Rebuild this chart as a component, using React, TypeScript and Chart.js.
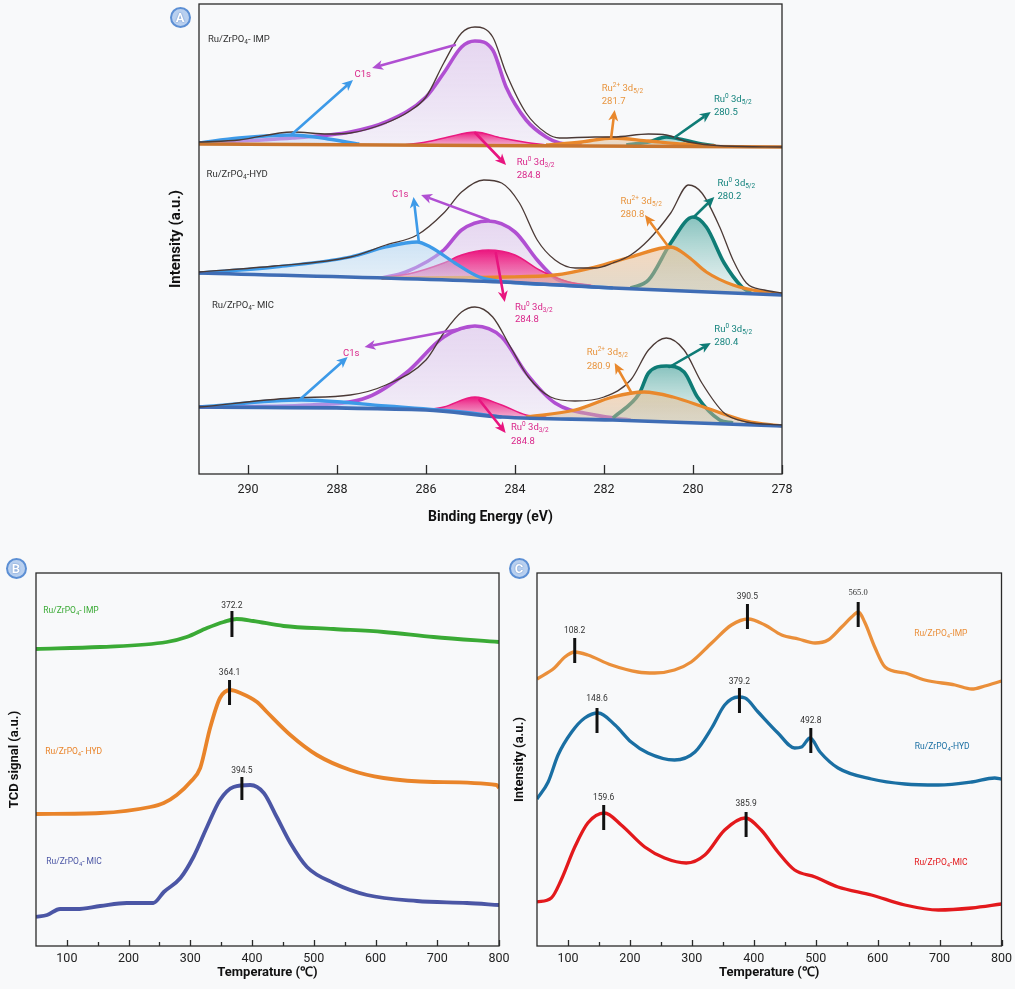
import React, { useEffect, useRef } from "react";
import { Chart, registerables } from "chart.js";
Chart.register(...registerables);

const BG = "#f8f9fa";
const FONT = "Roboto";

// ---------------- Panel A : XPS (binding energy, eV / intensity a.u.) ----------------
const A_TICKS = [290, 288, 286, 284, 282, 280, 278];

// IMP
const IMP_BASE_E = [291.1, 284.8, 278];
const IMP_BASE_V = [330, 328.5, 327];
const IMP_ENV_E = [291.1, 290.2, 289.0, 288.2, 287.7, 286.9, 286.4, 286.0, 285.6, 285.2, 284.9, 284.5, 284.2, 283.75, 283.3, 283.0, 282.2, 281.8, 281.0, 280.6, 280.1, 279.3, 278];
const IMP_ENV_V = [332, 334, 342, 340, 341, 351, 362, 377, 411, 441, 447, 437, 401, 361, 341, 336, 337, 337, 340, 339, 332, 328, 327];
const IMP_C1S_E = [291.1, 289.0, 287.7, 286.9, 286.0, 285.6, 285.2, 284.9, 284.5, 284.2, 283.75, 283.3, 283.0, 282.5];
const IMP_C1S_V = [331, 336, 342, 352, 377, 401, 427, 433, 424, 387, 354, 337, 331, 329];
const IMP_RU32_E = [286.5, 286.0, 285.5, 284.9, 284.3, 283.8, 283.3];
const IMP_RU32_V = [329, 332, 337, 342, 336, 332, 329];
const IMP_C1SB_E = [291.1, 290.2, 289.0, 288.2, 287.5];
const IMP_C1SB_V = [331, 336, 339, 335, 330];
const IMP_RU2_E = [283.3, 282.5, 281.8, 281.0, 280.2, 279.5];
const IMP_RU2_V = [329, 332, 336, 333, 330, 328];
const IMP_RU52_E = [281.5, 281.0, 280.6, 280.2, 279.8, 279.5];
const IMP_RU52_V = [329, 332, 337, 334, 330, 328];

// HYD
const HYD_BASE_E = [291.1, 284.3, 281.8, 278];
const HYD_BASE_V = [201, 192, 186, 179];
const HYD_ENV_E = [291.1, 289.4, 287.7, 286.9, 286.2, 285.6, 285.2, 284.7, 284.3, 283.9, 283.5, 283.1, 282.65, 282.2, 281.8, 281.4, 281.0, 280.5, 280.1, 279.8, 279.4, 279.1, 278.8, 278.4, 278];
const HYD_ENV_V = [202, 208, 217, 229, 239, 261, 282, 294, 291, 271, 234, 214, 206, 206, 211, 219, 234, 261, 289, 281, 247, 214, 191, 184, 181];
const HYD_C1S_E = [287.0, 286.45, 285.6, 285.2, 284.6, 284.0, 283.5, 283.1, 282.8, 282.3];
const HYD_C1S_V = [196, 202, 224, 244, 253, 242, 214, 196, 191, 188];
const HYD_RU32_E = [287.2, 286.4, 285.6, 285.2, 284.6, 284.0, 283.45, 282.8, 282.2];
const HYD_RU32_V = [196, 200, 211, 219, 224, 219, 204, 192, 188];
const HYD_C1SB_E = [291.1, 289.4, 287.7, 286.9, 286.2, 285.9, 285.35, 284.8, 283.9, 283.0, 281.8];
const HYD_C1SB_V = [201, 207, 217, 227, 232, 227, 211, 197, 191, 189, 186];
const HYD_RU2_E = [287.0, 284.3, 283.1, 282.2, 281.4, 280.5, 280.1, 279.7, 279.1, 278.4, 278];
const HYD_RU2_V = [196, 197, 199, 207, 217, 227, 217, 202, 189, 182, 180];
const HYD_RU52_E = [281.4, 281.0, 280.5, 280.0, 279.7, 279.3, 278.9, 278.7];
const HYD_RU52_V = [186, 194, 231, 257, 247, 211, 187, 181];

// MIC
const MIC_BASE_E = [291.1, 286.0, 284.3, 281.8, 278];
const MIC_BASE_V = [67, 64, 57, 54, 48];
const MIC_ENV_E = [291.1, 289.0, 287.7, 286.9, 286.0, 285.6, 285.2, 284.9, 284.5, 284.1, 283.7, 283.2, 282.65, 282.0, 281.4, 281.0, 280.6, 280.2, 279.8, 279.3, 278.8, 278];
const MIC_ENV_V = [67, 76, 79, 89, 114, 141, 162, 167, 157, 127, 97, 77, 73, 77, 94, 124, 136, 124, 91, 61, 52, 49];
const MIC_C1S_E = [291.1, 288.6, 287.3, 286.45, 285.6, 284.9, 284.3, 283.75, 283.1, 282.2, 281.4];
const MIC_C1S_V = [67, 69, 77, 101, 137, 148, 137, 101, 71, 59, 54];
const MIC_RU32_E = [286.0, 285.6, 284.9, 284.3, 283.75, 283.3];
const MIC_RU32_V = [64, 67, 77, 69, 59, 57];
const MIC_C1SB_E = [291.1, 288.8, 286.9, 285.2, 284.3];
const MIC_C1SB_V = [67, 74, 68, 62, 57];
const MIC_RU2_E = [283.75, 282.65, 281.8, 281.1, 280.45, 279.7, 278.8, 278];
const MIC_RU2_V = [57, 64, 77, 82, 77, 66, 53, 48];
const MIC_RU52_E = [281.8, 281.2, 281.0, 280.6, 280.2, 279.9, 279.4, 279.1];
const MIC_RU52_V = [56, 81, 101, 108, 102, 77, 54, 51];

// ---------------- Panel B : H2-TPR (TCD signal) ----------------
const TEMP_TICKS = [100, 200, 300, 400, 500, 600, 700, 800];
const TEMP_MINOR = [150, 250, 350, 450, 550, 650, 750];

const B_IMP_T = [50, 154, 262, 294, 327, 354, 375, 402, 451, 532, 613, 694, 800];
const B_IMP_V = [297, 299, 304, 309, 318, 324, 327, 325, 320, 317, 314, 309, 304];
const B_HYD_T = [50, 154, 235, 257, 278, 300, 316, 332, 348, 365, 381, 408, 424, 462, 505, 559, 613, 694, 796, 800];
const B_HYD_V = [132, 133, 139, 143, 151, 164, 178, 218, 248, 256, 253, 244, 234, 211, 191, 176, 168, 164, 161, 158];
const B_MIC_T = [50, 68, 89, 116, 154, 197, 240, 257, 284, 305, 327, 348, 370, 397, 419, 440, 462, 489, 532, 586, 667, 748, 800];
const B_MIC_V = [29, 31, 37, 37, 40, 43, 43, 54, 68, 89, 119, 146, 159, 161, 153, 129, 103, 79, 63, 51, 45, 43, 41];

const B_PEAK_T = [367.4, 363.5, 383.5];
const B_PEAK_LO = [309, 241, 146];
const B_PEAK_HI = [335, 266, 169];
const B_PEAK_LABEL = ["372.2", "364.1", "394.5"];
const B_PEAK_LABEL_V = [340, 273, 175];

// ---------------- Panel C : intensity vs temperature ----------------
const C_IMP_T = [50, 78, 95, 111, 132, 170, 213, 240, 272, 299, 332, 364, 391, 418, 445, 472, 499, 520, 542, 558, 569, 579, 596, 612, 644, 676, 725, 752, 773, 800];
const C_IMP_V = [267, 278, 289, 294, 291, 281, 274, 273, 276, 284, 303, 321, 327, 321, 311, 307, 303, 306, 319, 329, 334, 324, 298, 279, 273, 266, 261, 257, 260, 265];
const C_HYD_T = [50, 68, 84, 106, 127, 149, 176, 202, 229, 272, 305, 332, 353, 375, 386, 407, 439, 466, 477, 491, 507, 536, 590, 644, 698, 752, 789, 800];
const C_HYD_V = [147, 164, 191, 214, 228, 233, 221, 204, 193, 186, 194, 218, 241, 249, 248, 234, 213, 198, 199, 208, 194, 178, 167, 162, 161, 164, 168, 167];
const C_MIC_T = [50, 73, 89, 111, 132, 159, 186, 224, 256, 291, 321, 353, 386, 412, 439, 466, 499, 536, 590, 644, 698, 752, 800];
const C_MIC_V = [44, 48, 66, 99, 123, 133, 121, 99, 88, 83, 91, 116, 128, 116, 94, 76, 69, 59, 51, 41, 36, 38, 42];

const C_PEAK_T = [110.9, 389.8, 568.6, 146.9, 376.9, 492.1, 157.7, 387.6];
const C_PEAK_LO = [283, 317, 319, 213, 233, 193, 116, 109];
const C_PEAK_HI = [308, 342, 344, 238, 258, 218, 141, 134];
const C_PEAK_LABEL = ["108.2", "390.5", "565.0", "148.6", "379.2", "492.8", "159.6", "385.9"];
const C_PEAK_LABEL_V = [315, 349, 353, 247, 264, 225, 148, 142];
const C_PEAK_SERIF = [false, false, true, false, false, false, false, false];

// ---------------- helpers ----------------
type Part = [string, number];
const sampleParts = (name: string, sep: string): Part[] => [["Ru/ZrPO", 0], ["4", -1], [sep + name, 0]];
const RU0_32: Part[] = [["Ru", 0], ["0", 1], [" 3d", 0], ["3/2", -1]];
const RU0_52: Part[] = [["Ru", 0], ["0", 1], [" 3d", 0], ["5/2", -1]];
const RU2_52: Part[] = [["Ru", 0], ["2+", 1], [" 3d", 0], ["5/2", -1]];

const pts = (X: number[], Y: number[]) => X.map((x, i) => ({ x, y: Y[i] }));

function drawRich(ctx: CanvasRenderingContext2D, parts: Part[], x: number, y: number, size: number, color: string, align: string, family = FONT) {
  const small = size * 0.68;
  let total = 0;
  const widths = parts.map(([s, k]) => {
    ctx.font = `${k ? small : size}px ${family}`;
    const w = ctx.measureText(s).width;
    total += w;
    return w;
  });
  let cx = align === "center" ? x - total / 2 : align === "right" ? x - total : x;
  ctx.fillStyle = color;
  ctx.textBaseline = "middle";
  ctx.textAlign = "left";
  parts.forEach(([s, k], i) => {
    ctx.font = `${k ? small : size}px ${family}`;
    const dy = k === 1 ? -size * 0.35 : k === -1 ? size * 0.3 : 0;
    ctx.fillText(s, cx, y + dy);
    cx += widths[i];
  });
}

function drawArrow(ctx: CanvasRenderingContext2D, x1: number, y1: number, x2: number, y2: number, color: string) {
  const head = 11, hw = 5, lw = 2.6;
  const ang = Math.atan2(y2 - y1, x2 - x1);
  const bx = x2 - head * Math.cos(ang), by = y2 - head * Math.sin(ang);
  ctx.strokeStyle = color;
  ctx.lineWidth = lw;
  ctx.lineCap = "round";
  ctx.beginPath();
  ctx.moveTo(x1, y1);
  ctx.lineTo(bx + 2 * Math.cos(ang), by + 2 * Math.sin(ang));
  ctx.stroke();
  ctx.fillStyle = color;
  ctx.beginPath();
  ctx.moveTo(x2, y2);
  ctx.lineTo(bx + hw * Math.sin(ang), by - hw * Math.cos(ang));
  ctx.lineTo(bx + 3 * Math.cos(ang), by + 3 * Math.sin(ang));
  ctx.lineTo(bx - hw * Math.sin(ang), by + hw * Math.cos(ang));
  ctx.closePath();
  ctx.fill();
}

type TextSpec = { x: number; y: number; parts: Part[]; color: string; align: string; size: number; family?: string };
type ArrowSpec = { x1: number; y1: number; x2: number; y2: number; color: string };
type BarSpec = { x: number; lo: number; hi: number };

function makeAnnot(texts: TextSpec[], arrows: ArrowSpec[], bars: BarSpec[]) {
  return {
    id: "annot",
    afterDatasetsDraw(chart: any) {
      const { ctx } = chart;
      const xs = chart.scales.x, ys = chart.scales.y;
      const px = (v: number) => xs.getPixelForValue(v);
      const py = (v: number) => ys.getPixelForValue(v);
      ctx.save();
      bars.forEach((b) => {
        ctx.strokeStyle = "#111";
        ctx.lineWidth = 3;
        ctx.lineCap = "butt";
        ctx.beginPath();
        ctx.moveTo(px(b.x), py(b.lo));
        ctx.lineTo(px(b.x), py(b.hi));
        ctx.stroke();
      });
      arrows.forEach((a) => drawArrow(ctx, px(a.x1), py(a.y1), px(a.x2), py(a.y2), a.color));
      texts.forEach((t) => drawRich(ctx, t.parts, px(t.x), py(t.y), t.size, t.color, t.align, t.family || FONT));
      ctx.restore();
    },
  };
}

function makeFrame(major: number[], minor: number[], majLen: number, minLen: number) {
  return {
    id: "frame",
    afterDraw(chart: any) {
      const { ctx, chartArea: a } = chart;
      const xs = chart.scales.x;
      ctx.save();
      ctx.strokeStyle = "#2a2a2a";
      ctx.lineWidth = 1.3;
      ctx.strokeRect(a.left, a.top, a.right - a.left, a.bottom - a.top);
      ctx.beginPath();
      major.forEach((v) => {
        const x = Math.round(xs.getPixelForValue(v)) + 0.5;
        ctx.moveTo(x, a.bottom);
        ctx.lineTo(x, a.bottom - majLen);
      });
      minor.forEach((v) => {
        const x = Math.round(xs.getPixelForValue(v)) + 0.5;
        ctx.moveTo(x, a.bottom);
        ctx.lineTo(x, a.bottom - minLen);
      });
      ctx.stroke();
      ctx.restore();
    },
  };
}

function vgrad(top: string, bottom: string, vTop: number, vBot: number) {
  return (c: any) => {
    const chart = c.chart;
    const ys = chart.scales && chart.scales.y;
    if (!chart.chartArea || !ys) return top;
    const g = chart.ctx.createLinearGradient(0, ys.getPixelForValue(vTop), 0, ys.getPixelForValue(vBot));
    g.addColorStop(0, top);
    g.addColorStop(1, bottom);
    return g;
  };
}

// ---------------- Panel A config ----------------
const COL = {
  purple: "#b04fd2",
  pink: "#e8157f",
  blue: "#3d9ae8",
  orange: "#e9882c",
  teal: "#0f7c76",
  env: "#4b3a36",
  baseBlue: "#3f6db5",
  baseOrange: "#c9762f",
  pinkTxt: "#d9278a",
  orangeTxt: "#e8953f",
  tealTxt: "#16847e",
};

function configA(): any {
  const samples = [
    { base: [IMP_BASE_E, IMP_BASE_V], env: [IMP_ENV_E, IMP_ENV_V], c1s: [IMP_C1S_E, IMP_C1S_V], ru32: [IMP_RU32_E, IMP_RU32_V], c1sb: [IMP_C1SB_E, IMP_C1SB_V], ru2: [IMP_RU2_E, IMP_RU2_V], ru52: [IMP_RU52_E, IMP_RU52_V], baseCol: COL.baseOrange },
    { base: [HYD_BASE_E, HYD_BASE_V], env: [HYD_ENV_E, HYD_ENV_V], c1s: [HYD_C1S_E, HYD_C1S_V], ru32: [HYD_RU32_E, HYD_RU32_V], c1sb: [HYD_C1SB_E, HYD_C1SB_V], ru2: [HYD_RU2_E, HYD_RU2_V], ru52: [HYD_RU52_E, HYD_RU52_V], baseCol: COL.baseBlue },
    { base: [MIC_BASE_E, MIC_BASE_V], env: [MIC_ENV_E, MIC_ENV_V], c1s: [MIC_C1S_E, MIC_C1S_V], ru32: [MIC_RU32_E, MIC_RU32_V], c1sb: [MIC_C1SB_E, MIC_C1SB_V], ru2: [MIC_RU2_E, MIC_RU2_V], ru52: [MIC_RU52_E, MIC_RU52_V], baseCol: COL.baseBlue },
  ];
  const datasets: any[] = [];
  samples.forEach((s) => {
    const bi = datasets.length;
    datasets.push({ data: pts(s.base[0], s.base[1]), borderColor: s.baseCol, borderWidth: 3.6, fill: false, order: 2 });
    const comp = (c: number[][], line: string, top: string, bot: string, order: number, bw: number) => {
      const vTop = Math.max(...c[1]);
      const vBot = Math.min(...c[1]);
      datasets.push({ data: pts(c[0], c[1]), borderColor: line, borderWidth: bw, fill: { target: bi }, backgroundColor: vgrad(top, bot, vTop, vBot), order });
    };
    comp(s.c1s, COL.purple, "rgba(200,160,225,0.38)", "rgba(236,226,246,0.45)", 8, 3.6);
    comp(s.ru32, "#ea1a80", "rgba(236,10,120,0.95)", "rgba(240,110,170,0.55)", 7, 1.5);
    comp(s.ru52, COL.teal, "rgba(25,140,132,0.5)", "rgba(200,230,225,0.35)", 6, 3.6);
    comp(s.ru2, COL.orange, "rgba(242,190,140,0.55)", "rgba(200,180,150,0.45)", 5, 3.3);
    comp(s.c1sb, COL.blue, "rgba(165,205,240,0.5)", "rgba(215,232,248,0.45)", 4, 3.3);
    datasets.push({ data: pts(s.env[0], s.env[1]), borderColor: COL.env, borderWidth: 1.3, fill: false, order: 1 });
  });

  const T = (x: number, y: number, parts: Part[], color: string, align = "left", size = 9.5): TextSpec => ({ x, y, parts, color, align, size });
  const n = (s: string): Part[] => [[s, 0]];
  const texts: TextSpec[] = [
    T(290.9, 434, sampleParts("IMP", "- "), "#333"),
    T(287.42, 399, n("C1s"), COL.pinkTxt, "center"),
    T(283.96, 311, RU0_32, COL.pinkTxt), T(283.96, 298, n("284.8"), COL.pinkTxt),
    T(282.05, 385, RU2_52, COL.orangeTxt), T(282.05, 372, n("281.7"), COL.orangeTxt),
    T(279.53, 374, RU0_52, COL.tealTxt), T(279.53, 361, n("280.5"), COL.tealTxt),

    T(290.93, 299, sampleParts("HYD", "-"), "#333"),
    T(286.58, 279, n("C1s"), COL.pinkTxt, "center"),
    T(284.0, 166, RU0_32, COL.pinkTxt), T(284.0, 154, n("284.8"), COL.pinkTxt),
    T(281.63, 272, RU2_52, COL.orangeTxt), T(281.63, 259, n("280.8"), COL.orangeTxt),
    T(279.45, 290, RU0_52, COL.tealTxt), T(279.45, 277, n("280.2"), COL.tealTxt),

    T(290.81, 168, sampleParts("MIC", "- "), "#333"),
    T(287.68, 120, n("C1s"), COL.pinkTxt, "center"),
    T(284.09, 46, RU0_32, COL.pinkTxt), T(284.09, 32, n("284.8"), COL.pinkTxt),
    T(282.39, 121, RU2_52, COL.orangeTxt), T(282.39, 107, n("280.9"), COL.orangeTxt),
    T(279.52, 144, RU0_52, COL.tealTxt), T(279.52, 131, n("280.4"), COL.tealTxt),
  ];
  const A = (x1: number, y1: number, x2: number, y2: number, color: string): ArrowSpec => ({ x1, y1, x2, y2, color });
  const arrows: ArrowSpec[] = [
    A(285.35, 429, 287.21, 406, COL.purple), A(289.03, 339, 287.64, 394, COL.blue), A(284.89, 341, 284.2, 309, COL.pink),
    A(281.84, 336, 281.76, 364, COL.orange), A(280.4, 337, 279.6, 362, COL.teal),
    A(286.16, 232, 286.28, 277, COL.blue), A(284.59, 254, 286.11, 279, COL.purple), A(284.43, 221, 284.23, 172, COL.pink),
    A(280.53, 226, 281.08, 259, COL.orange), A(279.98, 257, 279.52, 277, COL.teal),
    A(285.01, 147, 287.38, 127, COL.purple), A(288.82, 75, 287.76, 117, COL.blue), A(284.8, 74, 284.21, 41, COL.pink),
    A(281.38, 81, 281.76, 111, COL.orange), A(280.53, 107, 279.6, 131, COL.teal),
  ];

  return {
    type: "line",
    data: { datasets },
    options: {
      animation: false,
      responsive: false,
      events: [],
      elements: { point: { radius: 0 }, line: { cubicInterpolationMode: "monotone" } },
      layout: { padding: { top: 4, right: 18, left: 0, bottom: 0 } },
      plugins: { legend: { display: false }, tooltip: { enabled: false }, filler: { propagate: false } },
      scales: {
        x: {
          type: "linear", reverse: true, min: 278, max: 291.1,
          afterBuildTicks: (s: any) => { s.ticks = A_TICKS.map((v) => ({ value: v })); },
          afterFit: (s: any) => { s.height = 66; s.paddingLeft = 0; s.paddingRight = 0; },
          grid: { display: false, drawTicks: false },
          border: { display: false },
          ticks: { font: { size: 12.5, family: FONT }, color: "#222", padding: 8, maxRotation: 0, autoSkip: false },
          title: { display: true, text: "Binding Energy (eV)", font: { size: 14, weight: "bold", family: FONT }, color: "#111", padding: { top: 0, bottom: 14 } },
        },
        y: {
          min: 0, max: 470,
          afterFit: (s: any) => { s.width = 49; s.paddingTop = 0; s.paddingBottom = 0; },
          grid: { display: false, drawTicks: false },
          border: { display: false },
          ticks: { display: false },
          title: { display: true, text: "Intensity (a.u.)", font: { size: 15, weight: "bold", family: FONT }, color: "#111", padding: { top: 17, bottom: 0 } },
        },
      },
    },
    plugins: [makeAnnot(texts, arrows, []), makeFrame(A_TICKS, [], 9, 0)],
  };
}

// ---------------- Panels B and C config ----------------
function tempConfig(series: { T: number[]; V: number[]; color: string }[], lw: number, texts: TextSpec[], bars: BarSpec[], yTitle: string, yWidth: number, padRight: number): any {
  return {
    type: "line",
    data: {
      datasets: series.map((s) => ({ data: pts(s.T, s.V), borderColor: s.color, borderWidth: lw, fill: false })),
    },
    options: {
      animation: false,
      responsive: false,
      events: [],
      elements: { point: { radius: 0 }, line: { cubicInterpolationMode: "monotone" } },
      layout: { padding: { top: 18, right: padRight, left: 0, bottom: 0 } },
      plugins: { legend: { display: false }, tooltip: { enabled: false } },
      scales: {
        x: {
          type: "linear", min: 50, max: 800,
          afterBuildTicks: (s: any) => { s.ticks = TEMP_TICKS.map((v) => ({ value: v })); },
          afterFit: (s: any) => { s.height = 43; s.paddingLeft = 0; s.paddingRight = 0; },
          grid: { display: false, drawTicks: false },
          border: { display: false },
          ticks: { font: { size: 12.5, family: FONT }, color: "#222", padding: 5, maxRotation: 0, autoSkip: false },
          title: { display: true, text: "Temperature (℃)", font: { size: 13, weight: "bold", family: FONT }, color: "#111", padding: { top: 0, bottom: 8 } },
        },
        y: {
          min: 0, max: 373,
          afterFit: (s: any) => { s.width = yWidth; s.paddingTop = 0; s.paddingBottom = 0; },
          grid: { display: false, drawTicks: false },
          border: { display: false },
          ticks: { display: false },
          title: { display: true, text: yTitle, font: { size: 13, weight: "bold", family: FONT }, color: "#111", padding: { top: 7, bottom: 0 } },
        },
      },
    },
    plugins: [makeAnnot(texts, [], bars), makeFrame(TEMP_TICKS, TEMP_MINOR, 6, 4)],
  };
}

function configB(): any {
  const COLS = ["#3aaa35", "#e9842a", "#4b56a5"];
  const texts: TextSpec[] = [
    { x: 61.8, y: 335, parts: sampleParts("IMP", "- "), color: COLS[0], align: "left", size: 8.5 },
    { x: 65, y: 194, parts: sampleParts("HYD", "- "), color: COLS[1], align: "left", size: 8.5 },
    { x: 66.7, y: 84, parts: sampleParts("MIC", "- "), color: COLS[2], align: "left", size: 8.5 },
    ...B_PEAK_LABEL.map((l, i) => ({ x: B_PEAK_T[i], y: B_PEAK_LABEL_V[i], parts: [[l, 0]] as Part[], color: "#333", align: "center", size: 8.5 })),
  ];
  const bars = B_PEAK_T.map((t, i) => ({ x: t, lo: B_PEAK_LO[i], hi: B_PEAK_HI[i] }));
  return tempConfig(
    [
      { T: B_IMP_T, V: B_IMP_V, color: COLS[0] },
      { T: B_HYD_T, V: B_HYD_V, color: COLS[1] },
      { T: B_MIC_T, V: B_MIC_V, color: COLS[2] },
    ],
    3.8, texts, bars, "TCD signal (a.u.)", 36, 11
  );
}

function configC(): any {
  const COLS = ["#ea8f3a", "#1a6fa3", "#e3191c"];
  const texts: TextSpec[] = [
    { x: 659, y: 312, parts: sampleParts("IMP", "-"), color: COLS[0], align: "left", size: 8.5 },
    { x: 660, y: 199, parts: sampleParts("HYD", "-"), color: COLS[1], align: "left", size: 8.5 },
    { x: 659, y: 83, parts: sampleParts("MIC", "-"), color: COLS[2], align: "left", size: 8.5 },
    ...C_PEAK_LABEL.map((l, i) => ({
      x: C_PEAK_T[i], y: C_PEAK_LABEL_V[i], parts: [[l, 0]] as Part[], color: "#333", align: "center", size: 8.5,
      family: C_PEAK_SERIF[i] ? "'Liberation Serif'" : FONT,
    })),
  ];
  const bars = C_PEAK_T.map((t, i) => ({ x: t, lo: C_PEAK_LO[i], hi: C_PEAK_HI[i] }));
  return tempConfig(
    [
      { T: C_IMP_T, V: C_IMP_V, color: COLS[0] },
      { T: C_HYD_T, V: C_HYD_V, color: COLS[1] },
      { T: C_MIC_T, V: C_MIC_V, color: COLS[2] },
    ],
    3.3, texts, bars, "Intensity (a.u.)", 32, 13.5
  );
}

function Badge({ x, y, t }: { x: number; y: number; t: string }) {
  return (
    <div
      style={{
        position: "absolute", left: x - 10.5, top: y - 10.5, width: 21, height: 21, borderRadius: "50%",
        background: "#b9d0ef", border: "2px solid #5c8fd4", boxSizing: "border-box", color: "#fff",
        fontFamily: FONT, fontWeight: 700, fontSize: 13, lineHeight: "17px", textAlign: "center",
        textShadow: "0 0 1.5px #3f6fb8",
      }}
    >
      {t}
    </div>
  );
}

export default function App() {
  const refA = useRef<HTMLCanvasElement>(null);
  const refB = useRef<HTMLCanvasElement>(null);
  const refC = useRef<HTMLCanvasElement>(null);
  useEffect(() => {
    document.body.style.margin = "0";
    document.body.style.background = BG;
    Chart.defaults.font.family = FONT;
    const charts = [
      new Chart(refA.current as HTMLCanvasElement, configA()),
      new Chart(refB.current as HTMLCanvasElement, configB()),
      new Chart(refC.current as HTMLCanvasElement, configC()),
    ];
    return () => charts.forEach((c) => c.destroy());
  }, []);
  return (
    <div style={{ position: "relative", width: 1015, height: 989, background: BG, overflow: "hidden" }}>
      <canvas ref={refA} width={650} height={540} style={{ position: "absolute", left: 150, top: 0, width: 650, height: 540 }} />
      <canvas ref={refB} width={510} height={434} style={{ position: "absolute", left: 0, top: 555, width: 510, height: 434 }} />
      <canvas ref={refC} width={510} height={434} style={{ position: "absolute", left: 505, top: 555, width: 510, height: 434 }} />
      <Badge x={180} y={17} t="A" />
      <Badge x={16} y={568} t="B" />
      <Badge x={519} y={568} t="C" />
    </div>
  );
}
